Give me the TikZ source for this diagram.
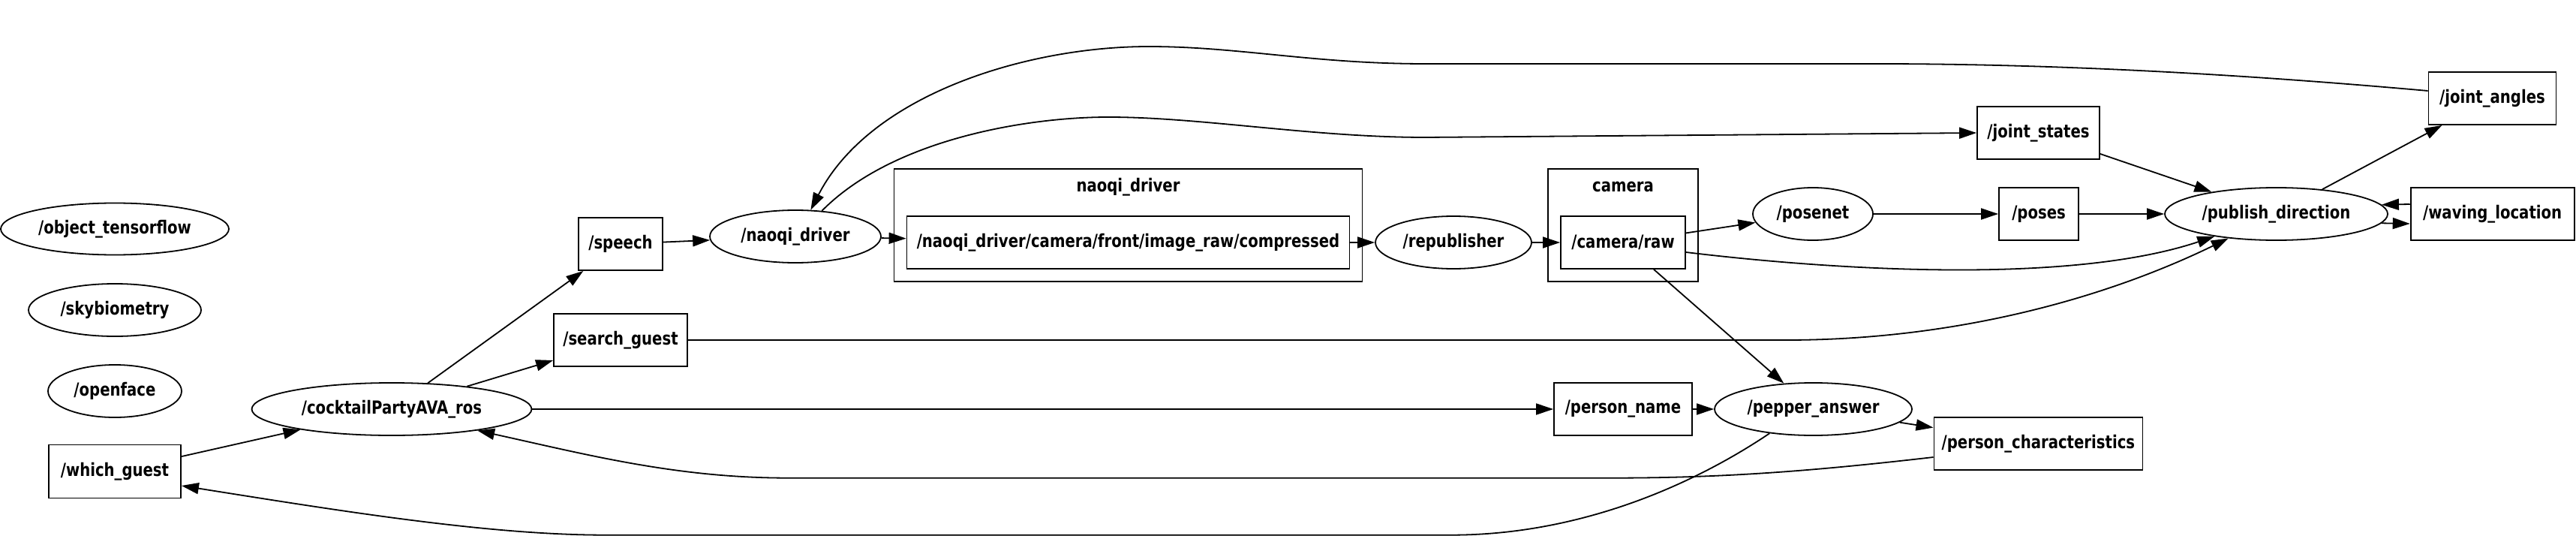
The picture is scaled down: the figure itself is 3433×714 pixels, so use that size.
\documentclass[tikz,border=0pt]{standalone}
\usepackage{fontspec}
\setmainfont{DejaVu Sans}[FakeStretch=0.82]
\usetikzlibrary{shapes.geometric,arrows.meta}
\tikzset{
  lbl/.style={font=\fontsize{24}{28}\selectfont\bfseries},
  topic/.style={lbl, draw, line width=1.8pt, rectangle, inner sep=0pt},
  rosnode/.style={lbl, draw, line width=1.8pt, ellipse, inner sep=0pt},
  clusterbox/.style={draw, line width=1.8pt, rectangle, inner sep=0pt},
  conn/.style={line width=1.8pt, -{Triangle[length=23pt,width=15pt]}},
}
\begin{document}
\begin{tikzpicture}[x=1pt,y=-1pt]
\useasboundingbox (0,0) rectangle (3433,714);
% clusters
\node[clusterbox, minimum width=624, minimum height=150] (clnaoqi) at (1503.5,300) {};
\node[lbl] (clnaoqilab) at (1503.5,249) {naoqi\_driver};
\node[clusterbox, minimum width=200, minimum height=150] (clcam) at (2163,300) {};
\node[lbl] (clcamlab) at (2163,249) {camera};
% isolated nodes
\node[rosnode, minimum width=304, minimum height=69] (ot) at (153,305) {/object\_tensorflow};
\node[rosnode, minimum width=230, minimum height=70] (sky) at (153,413) {/skybiometry};
\node[rosnode, minimum width=178, minimum height=70] (of) at (153,521) {/openface};
% main graph
\node[topic, minimum width=176, minimum height=71] (wg) at (153,628) {/which\_guest};
\node[rosnode, minimum width=373, minimum height=70] (cp) at (522,545) {/cocktailPartyAVA\_ros};
\node[topic, minimum width=112, minimum height=70] (sp) at (827,325) {/speech};
\node[topic, minimum width=178, minimum height=70] (sg) at (827,453) {/search\_guest};
\node[rosnode, minimum width=228, minimum height=70] (nd) at (1060,315) {/naoqi\_driver};
\node[topic, minimum width=590, minimum height=70] (cmp) at (1503.5,323) {/naoqi\_driver/camera/front/image\_raw/compressed};
\node[rosnode, minimum width=208, minimum height=70] (rep) at (1937,323) {/republisher};
\node[topic, minimum width=166, minimum height=70] (cr) at (2163,323) {/camera/raw};
\node[rosnode, minimum width=160, minimum height=70] (pn) at (2416,285) {/posenet};
\node[topic, minimum width=106, minimum height=70] (ps) at (2717,285) {/poses};
\node[topic, minimum width=163, minimum height=70] (js) at (2716.5,177) {/joint\_states};
\node[rosnode, minimum width=297, minimum height=70] (pd) at (3033.5,285) {/publish\_direction};
\node[topic, minimum width=170, minimum height=70] (ja) at (3321.5,131) {/joint\_angles};
\node[topic, minimum width=218, minimum height=70] (wl) at (3321.6,285) {/waving\_location};
\node[topic, minimum width=184, minimum height=70] (pnm) at (2163,545) {/person\_name};
\node[rosnode, minimum width=263, minimum height=70] (pa) at (2416.5,545) {/pepper\_answer};
\node[topic, minimum width=278, minimum height=70] (pc) at (2716.4,591) {/person\_characteristics};
% straight edges
\draw[conn] (wg) -- (cp);
\draw[conn] (cp) -- (sp);
\draw[conn] (cp) -- (sg);
\draw[conn] (cp) -- (pnm);
\draw[conn] (sp) -- (nd);
\draw[conn] (nd) -- (cmp);
\draw[conn] (cmp) -- (rep);
\draw[conn] (rep) -- (cr);
\draw[conn] (cr) -- (pn);
\draw[conn] (cr) -- (pa);
\draw[conn] (pn) -- (ps);
\draw[conn] (ps) -- (pd);
\draw[conn] (js) -- (pd);
\draw[conn] (pd) -- (ja);
\draw[conn] ([yshift=13pt]wl.west) -- (pd.5.4);
\draw[conn] (pd.-5.4) -- ([yshift=-13pt]wl.west);
\draw[conn] (pnm) -- (pa);
\draw[conn] (pa) -- (pc);
% curved edges
\draw[conn] ([yshift=-13pt]cr.east) .. controls (2420,357) and (2750,382) .. (pd.200);
\draw[conn] (sg.east) -- (2380,453) .. controls (2600,453) and (2800,400) .. (pd.207.5);
\draw[conn] (nd.44) .. controls (1190,185) and (1370,156) .. (1477,156)
  .. controls (1600,156) and (1750,183) .. (1900,183) -- (js.west);
\draw[conn] ([yshift=10pt]ja.west) .. controls (3000,100) and (2750,85) .. (2500,85) -- (1900,85)
  .. controls (1750,85) and (1650,62) .. (1531,62)
  .. controls (1370,62) and (1160,125) .. (nd.60);
\draw[conn] ([yshift=-18pt]pc.west) .. controls (2420,627) and (2300,636.7) .. (2150,636.7) -- (1050,636.7)
  .. controls (900,636.7) and (780,605) .. (cp.-14.6);
\draw[conn] (pa.209.5) .. controls (2250,650) and (2100,712.7) .. (1934,712.7) -- (806,712.7)
  .. controls (650,712.7) and (450,680) .. ([yshift=-19pt]wg.east);
\end{tikzpicture}
\end{document}
